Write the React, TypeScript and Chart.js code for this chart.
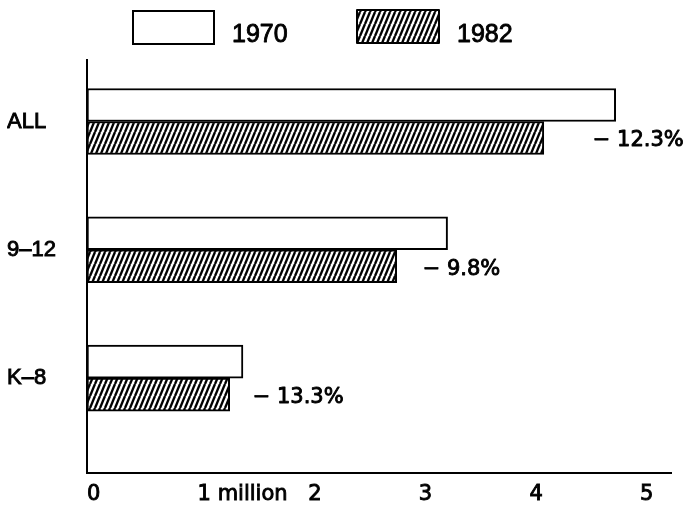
import React, { useEffect, useRef } from 'react';
import { Chart, registerables } from 'chart.js';

Chart.register(...registerables);

// ---- data ----
const categories = ['ALL', '9–12', 'K–8'];
const seriesNames = ['1970', '1982'];
const values1970 = [4.78, 3.26, 1.41];
const values1982 = [4.13, 2.8, 1.29];
const changeLabels = ['− 12.3%', '− 9.8%', '− 13.3%'];
const xTickValues = [0, 1, 2, 3, 4, 5];
const xTickLabels = ['0', '1 million', '2', '3', '4', '5'];

const FONT = "'Liberation Sans', Arial, Helvetica, sans-serif";
const FONT2 = "'DejaVu Sans', Verdana, sans-serif";
const STROKE = 0.9;

function makeHatch(): CanvasPattern | string {
  const w = 5;
  const h = 12;
  const c = document.createElement('canvas');
  c.width = w;
  c.height = h;
  const g = c.getContext('2d');
  if (!g) return '#777';
  g.fillStyle = '#fff';
  g.fillRect(0, 0, w, h);
  g.strokeStyle = '#000';
  g.lineWidth = 2.4;
  for (const dx of [-w, 0, w]) {
    g.beginPath();
    g.moveTo(dx, h);
    g.lineTo(dx + w, 0);
    g.stroke();
  }
  return g.createPattern(c, 'repeat') || '#777';
}

function drawText(ctx: CanvasRenderingContext2D, text: string, x: number, y: number) {
  ctx.lineWidth = STROKE;
  ctx.strokeStyle = '#000';
  ctx.lineJoin = 'round';
  ctx.strokeText(text, x, y);
  ctx.fillText(text, x, y);
}

export default function App() {
  const ref = useRef<HTMLCanvasElement | null>(null);

  useEffect(() => {
    if (!ref.current) return;
    const hatch = makeHatch();
    const fills = ['#ffffff', hatch];

    const legendPlugin = {
      id: 'manualLegend',
      afterDraw(chart: any) {
        const ctx = chart.ctx;
        const boxes = [
          { x: 133, y: 11, w: 81, h: 33 },
          { x: 357, y: 10, w: 82, h: 33 },
        ];
        ctx.save();
        boxes.forEach((b, i) => {
          ctx.fillStyle = fills[i];
          ctx.fillRect(b.x, b.y, b.w, b.h);
          ctx.strokeStyle = '#000';
          ctx.lineWidth = 2;
          ctx.strokeRect(b.x, b.y, b.w, b.h);
          ctx.fillStyle = '#000';
          ctx.font = `25px ${FONT}`;
          ctx.textAlign = 'left';
          ctx.textBaseline = 'middle';
          drawText(ctx, seriesNames[i], b.x + b.w + 18, 35);
        });
        ctx.restore();
      },
    };

    const changePlugin = {
      id: 'changeLabels',
      afterDatasetsDraw(chart: any) {
        const ctx = chart.ctx;
        const meta = chart.getDatasetMeta(1);
        const offsets = [49, 26, 23];
        ctx.save();
        ctx.fillStyle = '#000';
        ctx.font = `21px ${FONT2}`;
        ctx.textAlign = 'left';
        ctx.textBaseline = 'middle';
        meta.data.forEach((bar: any, i: number) => {
          const p = bar.getProps(['x', 'y'], true);
          drawText(ctx, changeLabels[i], p.x + offsets[i], p.y + 3);
        });
        ctx.restore();
      },
    };

    const chart = new Chart(ref.current, {
      type: 'bar',
      data: {
        datasets: [
          {
            label: seriesNames[0],
            data: values1970.map((v, i) => ({ x: v, y: i })),
            backgroundColor: fills[0],
            borderColor: '#000',
            borderWidth: 2,
            borderSkipped: false,
            barThickness: 33,
          },
          {
            label: seriesNames[1],
            data: values1982.map((v, i) => ({ x: v, y: i })),
            backgroundColor: fills[1] as any,
            borderColor: '#000',
            borderWidth: 2,
            borderSkipped: false,
            barThickness: 33,
          },
        ],
      },
      options: {
        indexAxis: 'y',
        responsive: false,
        animation: false,
        layout: { padding: { top: 60, left: 7, right: 16, bottom: 0 } },
        plugins: {
          legend: { display: false },
          tooltip: { enabled: false },
        },
        scales: {
          x: {
            type: 'linear',
            min: 0,
            max: 5.28,
            grid: { display: false, drawTicks: false },
            border: { display: true, color: '#000', width: 2 },
            afterBuildTicks: (scale: any) => {
              scale.ticks = xTickValues.map((v) => ({ value: v }));
            },
            afterFit: (scale: any) => {
              scale.height = 33;
            },
            ticks: {
              align: 'start',
              padding: 9,
              color: '#000',
              textStrokeColor: '#000',
              textStrokeWidth: STROKE,
              font: { family: FONT2, size: 21 },
              maxRotation: 0,
              callback: (v: any) => {
                const idx = xTickValues.indexOf(Number(v));
                return idx >= 0 ? xTickLabels[idx] : '';
              },
            },
          },
          y: {
            type: 'linear',
            reverse: true,
            offset: false,
            min: -0.479,
            max: 2.74,
            grid: { display: false, drawTicks: false },
            border: { display: true, color: '#000', width: 2 },
            afterBuildTicks: (scale: any) => {
              scale.ticks = categories.map((_, i) => ({ value: i }));
            },
            afterFit: (scale: any) => {
              scale.width = 80;
            },
            ticks: {
              crossAlign: 'far',
              color: '#000',
              textStrokeColor: '#000',
              textStrokeWidth: STROKE,
              font: { family: FONT, size: 22 },
              callback: (v: any) => categories[Number(v)] ?? '',
            },
          },
        },
      } as any,
      plugins: [legendPlugin, changePlugin],
    });

    return () => chart.destroy();
  }, []);

  return (
    <div style={{ position: 'fixed', left: 0, top: 0, width: 687, height: 506, background: '#fff' }}>
      <canvas ref={ref} width={687} height={506} style={{ display: 'block' }} />
    </div>
  );
}
